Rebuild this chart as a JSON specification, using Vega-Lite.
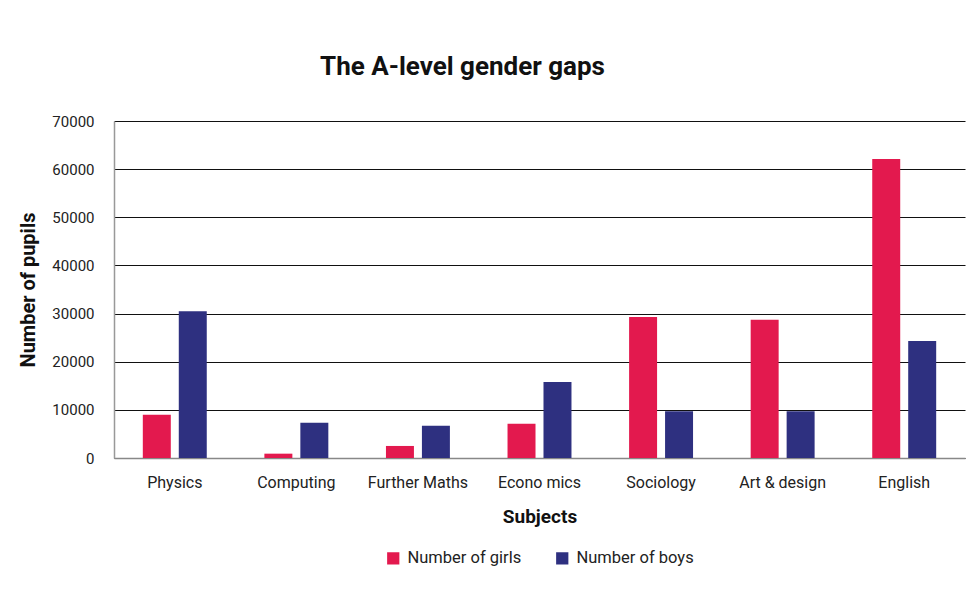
{
  "$schema": "https://vega.github.io/schema/vega-lite/v6.json",
  "width": 851,
  "height": 337,
  "autosize": {"type": "none"},
  "padding": {"left": 114, "top": 121, "right": 2, "bottom": 146},
  "background": "white",
  "title": {
    "text": "The A-level gender gaps",
    "font": "Roboto",
    "fontSize": 26,
    "fontWeight": "bold",
    "color": "#111111",
    "anchor": "middle",
    "frame": "group",
    "dx": -77,
    "offset": 34
  },
  "data": {
    "values": [
      {"subject": "Physics", "series": "Number of girls", "pupils": 9000},
      {"subject": "Physics", "series": "Number of boys", "pupils": 30500},
      {"subject": "Computing", "series": "Number of girls", "pupils": 900},
      {"subject": "Computing", "series": "Number of boys", "pupils": 7300},
      {"subject": "Further Maths", "series": "Number of girls", "pupils": 2500},
      {"subject": "Further Maths", "series": "Number of boys", "pupils": 6700},
      {"subject": "Econo mics", "series": "Number of girls", "pupils": 7100},
      {"subject": "Econo mics", "series": "Number of boys", "pupils": 15800},
      {"subject": "Sociology", "series": "Number of girls", "pupils": 29300},
      {"subject": "Sociology", "series": "Number of boys", "pupils": 9700},
      {"subject": "Art & design", "series": "Number of girls", "pupils": 28700},
      {"subject": "Art & design", "series": "Number of boys", "pupils": 9700},
      {"subject": "English", "series": "Number of girls", "pupils": 62100},
      {"subject": "English", "series": "Number of boys", "pupils": 24300}
    ]
  },
  "mark": {"type": "bar"},
  "encoding": {
    "x": {
      "field": "subject",
      "type": "nominal",
      "sort": null,
      "title": "Subjects",
      "scale": {"paddingInner": 0.474, "paddingOuter": 0.237},
      "axis": {
        "labelAngle": 0,
        "labelFont": "Roboto",
        "labelFontSize": 16,
        "labelColor": "#222222",
        "labelPadding": 16,
        "ticks": false,
        "domainColor": "#888888",
        "domainWidth": 1.5,
        "titleFont": "Roboto",
        "titleFontSize": 19,
        "titleFontWeight": "bold",
        "titleColor": "#111111",
        "titlePadding": 17
      }
    },
    "xOffset": {
      "field": "series",
      "type": "nominal",
      "sort": ["Number of girls", "Number of boys"],
      "scale": {"paddingInner": 0.222, "paddingOuter": 0}
    },
    "y": {
      "field": "pupils",
      "type": "quantitative",
      "title": "Number of pupils",
      "scale": {"domain": [0, 70000], "nice": false},
      "axis": {
        "values": [0, 10000, 20000, 30000, 40000, 50000, 60000, 70000],
        "format": "d",
        "labelFont": "Roboto",
        "labelFontSize": 15,
        "labelColor": "#222222",
        "labelPadding": 20,
        "ticks": false,
        "domainColor": "#999999",
        "domainWidth": 1.5,
        "grid": true,
        "gridColor": "#111111",
        "gridWidth": 1.2,
        "titleFont": "Roboto",
        "titleFontSize": 20,
        "titleFontWeight": "bold",
        "titleColor": "#111111",
        "titlePadding": 13
      }
    },
    "color": {
      "field": "series",
      "type": "nominal",
      "sort": ["Number of girls", "Number of boys"],
      "scale": {"domain": ["Number of girls", "Number of boys"], "range": ["#E3194E", "#2E3080"]},
      "legend": {
        "title": null,
        "orient": "bottom",
        "direction": "horizontal",
        "symbolType": "square",
        "symbolSize": 150,
        "symbolStrokeWidth": 0,
        "labelFont": "Roboto",
        "labelFontSize": 16.5,
        "labelColor": "#222222",
        "labelOffset": 6,
        "columnPadding": 32,
        "offset": 24
      }
    }
  },
  "config": {
    "view": {"stroke": null},
    "legend": {"layout": {"bottom": {"anchor": "middle"}}}
  }
}
